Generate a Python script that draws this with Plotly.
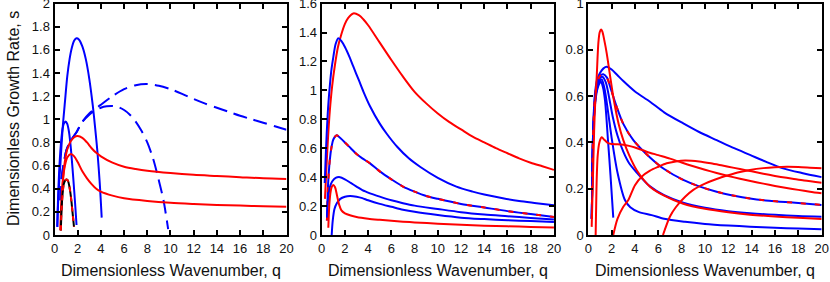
import plotly.graph_objects as go

# ---------------- Panel 1 data ----------------
p1_blue_big_q = [0.24, 0.3, 0.4, 0.5, 0.7, 0.9, 1.1, 1.3, 1.5, 1.7, 1.9, 2.1, 2.4, 2.7, 3.0, 3.3, 3.5, 3.7, 3.9, 4.07]
p1_blue_big_s = [0.07, 0.25, 0.45, 0.6, 0.92, 1.15, 1.37, 1.52, 1.62, 1.68, 1.70, 1.69, 1.63, 1.52, 1.35, 1.12, 0.93, 0.72, 0.45, 0.15]

p1_blue_mid_q = [0.24, 0.3, 0.4, 0.5, 0.6, 0.7, 0.8, 0.96, 1.1, 1.25, 1.4, 1.55, 1.7, 1.8, 1.9]
p1_blue_mid_s = [0.07, 0.3, 0.55, 0.72, 0.84, 0.92, 0.96, 0.98, 0.96, 0.89, 0.76, 0.58, 0.38, 0.24, 0.086]

p1_dash_big_q = [0.5, 0.62, 0.8, 1.05, 1.5, 1.91, 2.34, 3, 3.92, 5, 6, 7, 8, 9, 10, 11, 12, 13, 14, 15, 16, 17, 18, 19, 20]
p1_dash_big_s = [0.3, 0.5, 0.62, 0.74, 0.83, 0.89, 0.97, 1.05, 1.12, 1.2, 1.26, 1.295, 1.305, 1.29, 1.26, 1.22, 1.175, 1.135, 1.10, 1.065, 1.03, 1.0, 0.97, 0.94, 0.91]

p1_dash_mid_q = [0.5, 0.62, 0.8, 1.05, 1.5, 1.91, 2.34, 3, 3.5, 4, 4.5, 5, 5.5, 6, 6.5, 7, 7.5, 8, 8.5, 9, 9.4, 9.8]
p1_dash_mid_s = [0.3, 0.5, 0.62, 0.74, 0.83, 0.89, 0.97, 1.04, 1.075, 1.10, 1.112, 1.115, 1.105, 1.08, 1.04, 0.98, 0.9, 0.8, 0.66, 0.47, 0.3, 0.05]

p1_red_up_q = [0.53, 0.6, 0.75, 0.9, 1.1, 1.4, 1.7, 2.0, 2.4, 2.8, 3.2, 3.6, 4, 5, 6, 7, 8, 10, 12, 14, 16, 18, 20]
p1_red_up_s = [0.04, 0.25, 0.5, 0.64, 0.74, 0.81, 0.845, 0.855, 0.84, 0.80, 0.75, 0.71, 0.68, 0.625, 0.59, 0.57, 0.555, 0.535, 0.52, 0.51, 0.50, 0.49, 0.485]

p1_red_low_q = [0.5, 0.6, 0.75, 0.9, 1.1, 1.42, 1.7, 2.0, 2.4, 2.8, 3.2, 3.6, 4, 5, 6, 8, 10, 12, 14, 16, 18, 20]
p1_red_low_s = [0.04, 0.3, 0.5, 0.6, 0.67, 0.70, 0.68, 0.63, 0.55, 0.49, 0.44, 0.40, 0.375, 0.34, 0.317, 0.294, 0.278, 0.268, 0.26, 0.254, 0.249, 0.245]

p1_black_q = [0.55, 0.6, 0.7, 0.8, 0.95, 1.05, 1.15, 1.3, 1.45, 1.55, 1.68]
p1_black_s = [0.04, 0.2, 0.36, 0.44, 0.475, 0.48, 0.47, 0.41, 0.3, 0.2, 0.07]

# ---------------- Panel 2 data ----------------
p2_red_big_q = [0.28, 0.41, 0.55, 0.7, 0.9, 1.13, 1.4, 1.7, 2.0, 2.27, 2.72, 3.2, 3.6, 4, 5, 6, 7, 8, 9, 10, 11, 12, 13, 14, 15, 16, 17, 18, 19, 20]
p2_red_big_s = [0.25, 0.47, 0.68, 0.86, 1.03, 1.17, 1.30, 1.39, 1.46, 1.50, 1.532, 1.52, 1.49, 1.45, 1.33, 1.21, 1.095, 0.99, 0.91, 0.84, 0.78, 0.73, 0.68, 0.64, 0.60, 0.565, 0.53, 0.50, 0.475, 0.45]

p2_blue_big_q = [0.26, 0.35, 0.43, 0.55, 0.72, 0.85, 1.0, 1.2, 1.43, 1.7, 2.0, 2.4, 2.72, 3.2, 3.6, 4.16, 5, 5.6, 6.5, 7.5, 8.5, 10, 11.6, 13, 14, 15.6, 17, 18.5, 20]
p2_blue_big_s = [0.36, 0.55, 0.70, 0.88, 1.05, 1.15, 1.23, 1.32, 1.36, 1.34, 1.30, 1.23, 1.165, 1.07, 0.99, 0.89, 0.77, 0.70, 0.61, 0.53, 0.47, 0.395, 0.334, 0.30, 0.28, 0.254, 0.235, 0.22, 0.205]

p2_mix_q = [0.45, 0.55, 0.7, 0.85, 1.0, 1.29, 1.6, 2.0, 2.5, 3.0, 3.5, 4.16, 5, 6, 7, 8, 9, 10, 12, 14, 16, 18, 20]
p2_mix_s = [0.1, 0.35, 0.52, 0.61, 0.66, 0.69, 0.67, 0.64, 0.60, 0.56, 0.53, 0.495, 0.44, 0.385, 0.335, 0.30, 0.27, 0.25, 0.215, 0.19, 0.165, 0.145, 0.125]

p2_blue_04_q = [0.45, 0.55, 0.7, 0.9, 1.2, 1.58, 2.0, 2.5, 3, 3.5, 4.16, 5, 6, 7, 8, 10, 12, 14, 16, 18, 20]
p2_blue_04_s = [0.12, 0.25, 0.33, 0.37, 0.395, 0.40, 0.385, 0.36, 0.335, 0.31, 0.288, 0.265, 0.24, 0.22, 0.203, 0.18, 0.158, 0.142, 0.13, 0.118, 0.108]

p2_blue_027_q = [0.86, 0.95, 1.1, 1.3, 1.6, 2.0, 2.44, 3, 3.5, 4, 5, 6, 7, 8, 10, 12, 14, 16, 18, 20]
p2_blue_027_s = [0.0, 0.1, 0.18, 0.22, 0.25, 0.265, 0.27, 0.265, 0.255, 0.24, 0.215, 0.195, 0.175, 0.16, 0.138, 0.12, 0.11, 0.102, 0.096, 0.09]

p2_red_small_q = [0.57, 0.65, 0.75, 0.85, 1.0, 1.15, 1.3, 1.5, 1.7, 2.0, 2.5, 3, 4, 5, 6, 7, 8, 10, 12, 14, 16, 18, 20]
p2_red_small_s = [0.05, 0.2, 0.29, 0.33, 0.345, 0.33, 0.28, 0.21, 0.17, 0.15, 0.135, 0.125, 0.113, 0.105, 0.098, 0.092, 0.087, 0.078, 0.07, 0.064, 0.06, 0.056, 0.052]

# ---------------- Panel 3 data ----------------
p3_blue_a_q = [0.3, 0.4, 0.55, 0.75, 1.0, 1.3, 1.58, 2.0, 2.5, 3, 4, 5.29, 6.5, 8.14, 9.5, 11, 12.5, 13.86, 15.3, 16.7, 18.3, 20]
p3_blue_a_s = [0.07, 0.42, 0.6, 0.67, 0.70, 0.72, 0.727, 0.715, 0.69, 0.665, 0.62, 0.576, 0.53, 0.482, 0.445, 0.41, 0.375, 0.346, 0.315, 0.288, 0.268, 0.25]

p3_mix_q = [0.3, 0.4, 0.55, 0.75, 1.0, 1.29, 1.6, 2.0, 2.43, 3, 3.86, 5.29, 6.5, 8.14, 9.5, 11, 12.5, 13.86, 15.5, 17.5, 20]
p3_mix_s = [0.07, 0.42, 0.58, 0.655, 0.688, 0.695, 0.68, 0.62, 0.554, 0.48, 0.41, 0.335, 0.285, 0.238, 0.21, 0.187, 0.17, 0.158, 0.148, 0.14, 0.13]

p3_blue_c_q = [0.3, 0.4, 0.55, 0.75, 1.0, 1.2, 1.5, 1.8, 2.1, 2.5, 3, 3.5, 4.15, 5.29, 6.5, 8.14, 10, 12, 13.86, 16, 18, 20]
p3_blue_c_s = [0.07, 0.4, 0.56, 0.64, 0.678, 0.684, 0.66, 0.59, 0.51, 0.43, 0.36, 0.31, 0.27, 0.21, 0.172, 0.14, 0.118, 0.103, 0.094, 0.087, 0.082, 0.079]

p3_blue_e_q = [0.3, 0.4, 0.55, 0.75, 1.0, 1.15, 1.4, 1.7, 2.0, 2.5, 3.14, 3.6, 4.3, 5.43, 6.5, 8.29, 10, 12, 13.86, 16, 18, 20]
p3_blue_e_s = [0.07, 0.4, 0.56, 0.635, 0.668, 0.672, 0.63, 0.53, 0.42, 0.27, 0.151, 0.12, 0.1, 0.086, 0.07, 0.057, 0.048, 0.041, 0.036, 0.031, 0.028, 0.025]

p3_blue_f_q = [0.3, 0.4, 0.55, 0.75, 0.95, 1.09, 1.25, 1.43, 1.7, 1.9, 2.14]
p3_blue_f_s = [0.07, 0.4, 0.55, 0.625, 0.655, 0.662, 0.64, 0.583, 0.40, 0.26, 0.075]

p3_red_r1_q = [0.29, 0.4, 0.5, 0.6, 0.72, 0.86, 0.97, 1.09, 1.2, 1.37, 1.58, 1.86, 2.2, 2.6, 3.0, 3.5, 4.15, 5.29, 6.5, 8.14, 10, 12, 13.86, 16, 18, 20]
p3_red_r1_s = [0.035, 0.25, 0.45, 0.58, 0.684, 0.828, 0.875, 0.888, 0.88, 0.842, 0.785, 0.69, 0.58, 0.48, 0.41, 0.345, 0.28, 0.209, 0.17, 0.135, 0.113, 0.098, 0.088, 0.08, 0.074, 0.069]

p3_red_r2_q = [0.63, 0.7, 0.8, 0.95, 1.15, 1.4, 1.7, 2.0, 2.5, 3, 3.5, 4, 5, 6, 7, 8, 9, 10, 11, 12, 13, 14, 15, 16, 17, 18, 19, 20]
p3_red_r2_s = [0.0, 0.2, 0.34, 0.40, 0.422, 0.41, 0.397, 0.393, 0.392, 0.39, 0.385, 0.378, 0.36, 0.345, 0.33, 0.313, 0.297, 0.282, 0.268, 0.255, 0.243, 0.232, 0.222, 0.212, 0.203, 0.195, 0.187, 0.18]

p3_red_r3_q = [2.14, 2.5, 3, 3.43, 4.0, 4.57, 5.29, 6.0, 6.72, 7.5, 8.29, 9.5, 10.5, 11.5, 12.5, 13.5, 14.5, 15.5, 16.5, 17.5, 18.5, 20]
p3_red_r3_s = [0.0, 0.07, 0.122, 0.151, 0.215, 0.252, 0.278, 0.295, 0.31, 0.318, 0.322, 0.318, 0.31, 0.30, 0.29, 0.28, 0.27, 0.26, 0.251, 0.243, 0.235, 0.226]

p3_red_r4_q = [6.4, 7, 7.5, 8.3, 9, 10, 11, 12, 13, 13.86, 15, 16, 17, 18, 19, 20]
p3_red_r4_s = [0.0, 0.08, 0.12, 0.165, 0.195, 0.222, 0.242, 0.258, 0.272, 0.281, 0.289, 0.293, 0.295, 0.294, 0.291, 0.288]

# ---------------- Axis settings ----------------
x_range = [0, 20]
y_ranges = [[0, 2], [0, 1.6], [0, 1]]
y_ticks = [[0, 0.2, 0.4, 0.6, 0.8, 1, 1.2, 1.4, 1.6, 1.8, 2],
           [0, 0.2, 0.4, 0.6, 0.8, 1, 1.2, 1.4, 1.6],
           [0, 0.2, 0.4, 0.6, 0.8, 1]]
x_ticks = [0, 2, 4, 6, 8, 10, 12, 14, 16, 18, 20]
x_title = "Dimensionless Wavenumber, q"
y_title = "Dimensionless Growth Rate, s"

BLUE = "#0000ff"
RED = "#ff0000"
BLACK = "#000000"
LW = 2

fig = go.Figure()


def add(q, s, color, panel, dash="solid"):
    fig.add_trace(go.Scatter(
        x=q, y=s, mode="lines",
        line=dict(color=color, width=LW, dash=dash, shape="spline", smoothing=0.8),
        xaxis="x" if panel == 1 else f"x{panel}",
        yaxis="y" if panel == 1 else f"y{panel}",
        showlegend=False, hoverinfo="skip"))


# Panel 1
add(p1_blue_big_q, p1_blue_big_s, BLUE, 1)
add(p1_blue_mid_q, p1_blue_mid_s, BLUE, 1)
add(p1_dash_big_q, p1_dash_big_s, BLUE, 1, "14px,7px")
add(p1_dash_mid_q, p1_dash_mid_s, BLUE, 1, "14px,7px")
add(p1_red_up_q, p1_red_up_s, RED, 1)
add(p1_red_low_q, p1_red_low_s, RED, 1)
add(p1_black_q, p1_black_s, BLACK, 1)
add(p1_black_q, p1_black_s, RED, 1, "5px,5px")

# Panel 2
add(p2_red_big_q, p2_red_big_s, RED, 2)
add(p2_blue_big_q, p2_blue_big_s, BLUE, 2)
add(p2_mix_q, p2_mix_s, BLUE, 2)
add(p2_mix_q, p2_mix_s, RED, 2, "5px,9px")
add(p2_blue_04_q, p2_blue_04_s, BLUE, 2)
add(p2_blue_027_q, p2_blue_027_s, BLUE, 2)
add(p2_red_small_q, p2_red_small_s, RED, 2)

# Panel 3
add(p3_blue_a_q, p3_blue_a_s, BLUE, 3)
add(p3_blue_f_q, p3_blue_f_s, BLUE, 3)
add(p3_blue_e_q, p3_blue_e_s, BLUE, 3)
add(p3_blue_c_q, p3_blue_c_s, BLUE, 3)
add(p3_mix_q, p3_mix_s, BLUE, 3)
add(p3_mix_q, p3_mix_s, RED, 3, "5px,9px")
add(p3_red_r1_q, p3_red_r1_s, RED, 3)
add(p3_red_r2_q, p3_red_r2_s, RED, 3)
add(p3_red_r3_q, p3_red_r3_s, RED, 3)
add(p3_red_r4_q, p3_red_r4_s, RED, 3)

x_domains = [[54.5 / 830, 286.5 / 830], [321.7 / 830, 554 / 830], [588.3 / 830, 821.7 / 830]]
y_domain = [(282 - 235) / 282, (282 - 3.5) / 282]

axis_common = dict(showline=True, linewidth=2, linecolor="black", mirror="ticks",
                   ticks="inside", ticklen=5, tickwidth=1.5, tickcolor="black",
                   showgrid=False, zeroline=False, ticklabeloverflow="allow",
                   automargin=False,
                   tickfont=dict(size=13, color="#111"))

layout = dict(width=830, height=282, margin=dict(l=0, r=0, t=0, b=0, autoexpand=False),
              paper_bgcolor="white", plot_bgcolor="white",
              font=dict(family="Liberation Sans, Arial, sans-serif", color="black"))
for i in range(3):
    xa = "xaxis" if i == 0 else f"xaxis{i + 1}"
    ya = "yaxis" if i == 0 else f"yaxis{i + 1}"
    yr = [y_ranges[i][0], y_ranges[i][1] * 1.0003]
    layout[xa] = dict(axis_common, domain=x_domains[i], range=[x_range[0], x_range[1] + 0.005],
                      tickmode="array", tickvals=x_ticks,
                      anchor="y" if i == 0 else f"y{i + 1}")
    layout[ya] = dict(axis_common, domain=y_domain, range=yr,
                      tickmode="array", tickvals=y_ticks[i],
                      anchor="x" if i == 0 else f"x{i + 1}")
fig.update_layout(**layout)

annotations = []
for i in range(3):
    cx = (x_domains[i][0] + x_domains[i][1]) / 2
    annotations.append(dict(text=x_title, x=cx, y=(282 - 270) / 282, xref="paper", yref="paper",
                            showarrow=False, font=dict(size=16, color="#111"),
                            xanchor="center", yanchor="middle"))
annotations.append(dict(text=y_title, x=13 / 830, y=(282 - 119) / 282, xref="paper", yref="paper",
                        showarrow=False, textangle=-90, font=dict(size=16, color="#111"),
                        xanchor="center", yanchor="middle"))
fig.update_layout(annotations=annotations)

fig.write_html("out.html",
               config={"displayModeBar": False},
               post_script="document.body.style.margin='0';document.body.style.padding='0';"
                           "document.body.style.overflow='hidden';")
